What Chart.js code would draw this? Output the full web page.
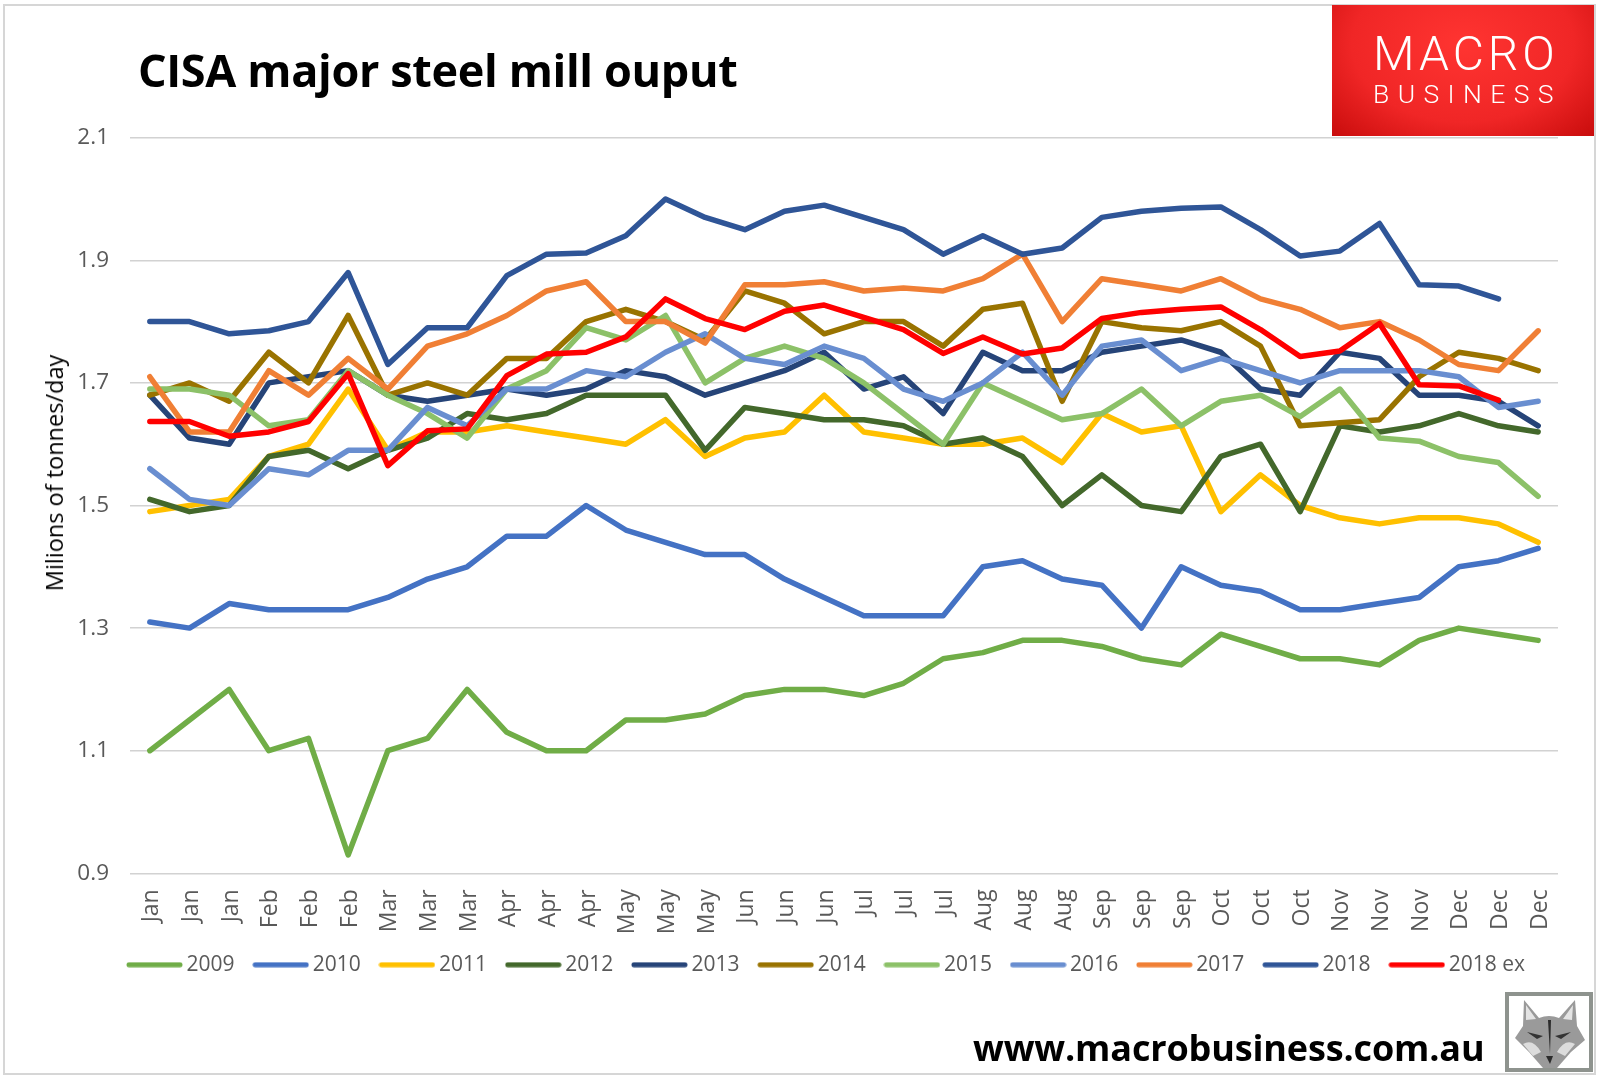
<!DOCTYPE html>
<html>
<head>
<meta charset="utf-8">
<title>CISA major steel mill ouput</title>
<script src="https://cdn.jsdelivr.net/npm/chart.js@4/dist/chart.umd.min.js"></script>
<style>
  html, body { margin: 0; padding: 0; background: #fff; }
  #page { position: relative; width: 1597px; height: 1076px; overflow: hidden; font-family: "Open Sans", sans-serif; }
  #frame { position: absolute; left: 3px; top: 4px; width: 1589px; height: 1067px; border: 2px solid #d6d6d6; }
  #chart { position: absolute; left: 0; top: 0; }
  #title { position: absolute; left: 138px; top: 39px; font: bold 45px "Open Sans", sans-serif; letter-spacing: -0.35px; color: #000; white-space: nowrap; }
  #ytitle { position: absolute; left: 54px; top: 473px; font-size: 23.5px; color: #000; white-space: nowrap; transform: translate(-50%, -50%) rotate(-90deg); }
  #logo { position: absolute; left: 1332px; top: 5px; width: 262px; height: 131px; color: #fff; background: radial-gradient(ellipse at 50% 30%, #ff3431 0%, #f02626 60%, #c80c0c 100%); }
  #logo div { position: absolute; left: 41px; white-space: nowrap; font-family: Roboto, sans-serif; font-weight: 300; }
  #macro { top: 20px; font-size: 48px; letter-spacing: 4px; }
  #business { top: 73px; font-size: 26.5px; letter-spacing: 8.4px; }
  #url { position: absolute; left: 973px; top: 1023px; font: bold 36px "Open Sans", sans-serif; letter-spacing: -0.15px; color: #000; white-space: nowrap; }
  #fox { position: absolute; left: 1505px; top: 992px; width: 80px; height: 72px; border: 4px solid #8e938e; background: #fff; }
</style>
</head>
<body>
<div id="page">
  <div id="frame"></div>
  <canvas id="chart" width="1597" height="1076"></canvas>
  <div id="title">CISA major steel mill ouput</div>
  <div id="ytitle">Milions of tonnes/day</div>
  <div id="logo"><div id="macro">MACRO</div><div id="business">BUSINESS</div></div>
  <div id="url">www.macrobusiness.com.au</div>
  <svg id="fox" viewBox="0 0 80 72">
    <path d="M14 30 L15 4 L30 22 Q40 18 50 22 L66 4 L68 30 L76 44 L62 56 L48 72 L34 72 L20 56 L6 42 Z" fill="#9a9a9a"/>
    <path d="M17 24 L17 9 L27 23 Z M63 24 L64 9 L54 23 Z" fill="#e4e4e4"/>
    <path d="M18 36 L34 40 L28 43 Z M62 36 L46 40 L52 43 Z" fill="#333"/>
    <path d="M14 48 Q24 42 32 56 L24 60 Z M66 48 Q56 42 48 56 L56 60 Z" fill="#dcdcdc"/>
    <path d="M37 60 L44 60 L41 68 Z M39 24 L42 24 L41 58 Z" fill="#2c2c2c"/>
  </svg>
</div>
<script>
const months = ['Jan', 'Feb', 'Mar', 'Apr', 'May', 'Jun', 'Jul', 'Aug', 'Sep', 'Oct', 'Nov', 'Dec'];
const labels = months.flatMap(m => [m, m, m]);

const y2009 = [1.10, 1.15, 1.20, 1.10, 1.12, 0.93, 1.10, 1.12, 1.20, 1.13, 1.10, 1.10, 1.15, 1.15, 1.16, 1.19, 1.20, 1.20, 1.19, 1.21, 1.25, 1.26, 1.28, 1.28, 1.27, 1.25, 1.24, 1.29, 1.27, 1.25, 1.25, 1.24, 1.28, 1.30, 1.29, 1.28];
const y2010 = [1.31, 1.30, 1.34, 1.33, 1.33, 1.33, 1.35, 1.38, 1.40, 1.45, 1.45, 1.50, 1.46, 1.44, 1.42, 1.42, 1.38, 1.35, 1.32, 1.32, 1.32, 1.40, 1.41, 1.38, 1.37, 1.30, 1.40, 1.37, 1.36, 1.33, 1.33, 1.34, 1.35, 1.40, 1.41, 1.43];
const y2011 = [1.49, 1.50, 1.51, 1.58, 1.60, 1.69, 1.59, 1.62, 1.62, 1.63, 1.62, 1.61, 1.60, 1.64, 1.58, 1.61, 1.62, 1.68, 1.62, 1.61, 1.60, 1.60, 1.61, 1.57, 1.65, 1.62, 1.63, 1.49, 1.55, 1.50, 1.48, 1.47, 1.48, 1.48, 1.47, 1.44];
const y2012 = [1.51, 1.49, 1.50, 1.58, 1.59, 1.56, 1.59, 1.61, 1.65, 1.64, 1.65, 1.68, 1.68, 1.68, 1.59, 1.66, 1.65, 1.64, 1.64, 1.63, 1.60, 1.61, 1.58, 1.50, 1.55, 1.50, 1.49, 1.58, 1.60, 1.49, 1.63, 1.62, 1.63, 1.65, 1.63, 1.62];
const y2013 = [1.68, 1.61, 1.60, 1.70, 1.71, 1.72, 1.68, 1.67, 1.68, 1.69, 1.68, 1.69, 1.72, 1.71, 1.68, 1.70, 1.72, 1.75, 1.69, 1.71, 1.65, 1.75, 1.72, 1.72, 1.75, 1.76, 1.77, 1.75, 1.69, 1.68, 1.75, 1.74, 1.68, 1.68, 1.67, 1.63];
const y2014 = [1.68, 1.70, 1.67, 1.75, 1.70, 1.81, 1.68, 1.70, 1.68, 1.74, 1.74, 1.80, 1.82, 1.80, 1.77, 1.85, 1.83, 1.78, 1.80, 1.80, 1.76, 1.82, 1.83, 1.67, 1.80, 1.79, 1.785, 1.80, 1.76, 1.63, 1.635, 1.64, 1.71, 1.75, 1.74, 1.72];
const y2015 = [1.69, 1.69, 1.68, 1.63, 1.64, 1.72, 1.68, 1.65, 1.61, 1.69, 1.72, 1.79, 1.77, 1.81, 1.70, 1.74, 1.76, 1.74, 1.70, 1.65, 1.60, 1.70, 1.67, 1.64, 1.65, 1.69, 1.63, 1.67, 1.68, 1.645, 1.69, 1.61, 1.605, 1.58, 1.57, 1.515];
const y2016 = [1.56, 1.51, 1.50, 1.56, 1.55, 1.59, 1.59, 1.66, 1.63, 1.69, 1.69, 1.72, 1.71, 1.75, 1.78, 1.74, 1.73, 1.76, 1.74, 1.69, 1.67, 1.70, 1.75, 1.68, 1.76, 1.77, 1.72, 1.74, 1.72, 1.70, 1.72, 1.72, 1.72, 1.71, 1.66, 1.67];
const y2017 = [1.71, 1.62, 1.62, 1.72, 1.68, 1.74, 1.69, 1.76, 1.78, 1.81, 1.85, 1.865, 1.80, 1.80, 1.765, 1.86, 1.86, 1.865, 1.85, 1.855, 1.85, 1.87, 1.91, 1.80, 1.87, 1.86, 1.85, 1.87, 1.837, 1.82, 1.79, 1.80, 1.77, 1.73, 1.72, 1.785];
const y2018 = [1.80, 1.80, 1.78, 1.785, 1.80, 1.88, 1.73, 1.79, 1.79, 1.875, 1.91, 1.912, 1.94, 2.00, 1.97, 1.95, 1.98, 1.99, 1.97, 1.95, 1.91, 1.94, 1.91, 1.92, 1.97, 1.98, 1.985, 1.987, 1.95, 1.907, 1.915, 1.96, 1.86, 1.858, 1.837, null];
const y2018ex = [1.637, 1.637, 1.613, 1.62, 1.637, 1.715, 1.565, 1.622, 1.625, 1.712, 1.747, 1.75, 1.775, 1.837, 1.805, 1.787, 1.817, 1.827, 1.807, 1.787, 1.748, 1.775, 1.747, 1.757, 1.805, 1.815, 1.82, 1.824, 1.787, 1.743, 1.752, 1.797, 1.697, 1.695, 1.672, null];

const names = ['2009', '2010', '2011', '2012', '2013', '2014', '2015', '2016', '2017', '2018', '2018 ex'];
const colors = ['#70AD47', '#4472C4', '#FFC000', '#43682B', '#264478', '#997300', '#8CC168', '#698ED0', '#F07F35', '#2F5597', '#FF0000'];
const series = [y2009, y2010, y2011, y2012, y2013, y2014, y2015, y2016, y2017, y2018, y2018ex];

// legend key: a long rounded line, wider than the slot chart.js gives it
function legendKey(color) {
    const c = document.createElement('canvas');
    c.width = 57;
    c.height = 6;
    const g = c.getContext('2d');
    g.strokeStyle = color;
    g.lineWidth = 5;
    g.lineCap = 'round';
    g.beginPath();
    g.moveTo(3, 3);
    g.lineTo(54, 3);
    g.stroke();
    return c;
}

const placeLegend = {
    id: 'placeLegend',
    beforeDraw(chart) {
        chart.legend.left = 108.3;
        chart.legend.right = 1597;
        chart.legend.top = 929.5;
    }
};

new Chart(document.getElementById('chart').getContext('2d'), {
    type: 'line',
    data: {
        labels: labels,
        datasets: series.map((values, i) => ({
            label: names[i],
            data: values,
            borderColor: colors[i],
            backgroundColor: colors[i],
            borderWidth: 5.5,
            borderCapStyle: 'round',
            borderJoinStyle: 'round',
            pointRadius: 0,
            tension: 0,
            spanGaps: false,
            order: series.length - i
        }))
    },
    options: {
        responsive: false,
        animation: false,
        layout: { padding: { left: 0, top: 137.7, right: 39, bottom: 0 } },
        plugins: {
            tooltip: { enabled: false },
            legend: {
                position: 'bottom',
                align: 'start',
                labels: {
                    usePointStyle: true,
                    pointStyleWidth: 43,
                    padding: 24.7,
                    color: '#595959',
                    font: { family: 'Open Sans', size: 21 },
                    sort: (a, b) => a.datasetIndex - b.datasetIndex,
                    generateLabels(chart) {
                        return Chart.defaults.plugins.legend.labels.generateLabels(chart).map(item => {
                            item.pointStyle = legendKey(colors[item.datasetIndex]);
                            return item;
                        });
                    }
                }
            }
        },
        scales: {
            x: {
                offset: true,
                afterFit(scale) { scale.height = 147; },
                grid: { display: false },
                border: { display: false },
                ticks: {
                    autoSkip: false,
                    minRotation: 90,
                    maxRotation: 90,
                    padding: 8,
                    labelOffset: 2,
                    color: '#595959',
                    font: { family: 'Open Sans', size: 23 }
                }
            },
            y: {
                min: 0.9,
                max: 2.1,
                afterFit(scale) { scale.width = 130; },
                grid: { color: '#d2d2d2', lineWidth: 1.5, drawTicks: false },
                border: { display: false },
                ticks: {
                    stepSize: 0.2,
                    padding: 21,
                    color: '#595959',
                    font: { family: 'Open Sans', size: 22.5 },
                    callback: v => v.toFixed(1)
                }
            }
        }
    },
    plugins: [placeLegend]
});
</script>
</body>
</html>
